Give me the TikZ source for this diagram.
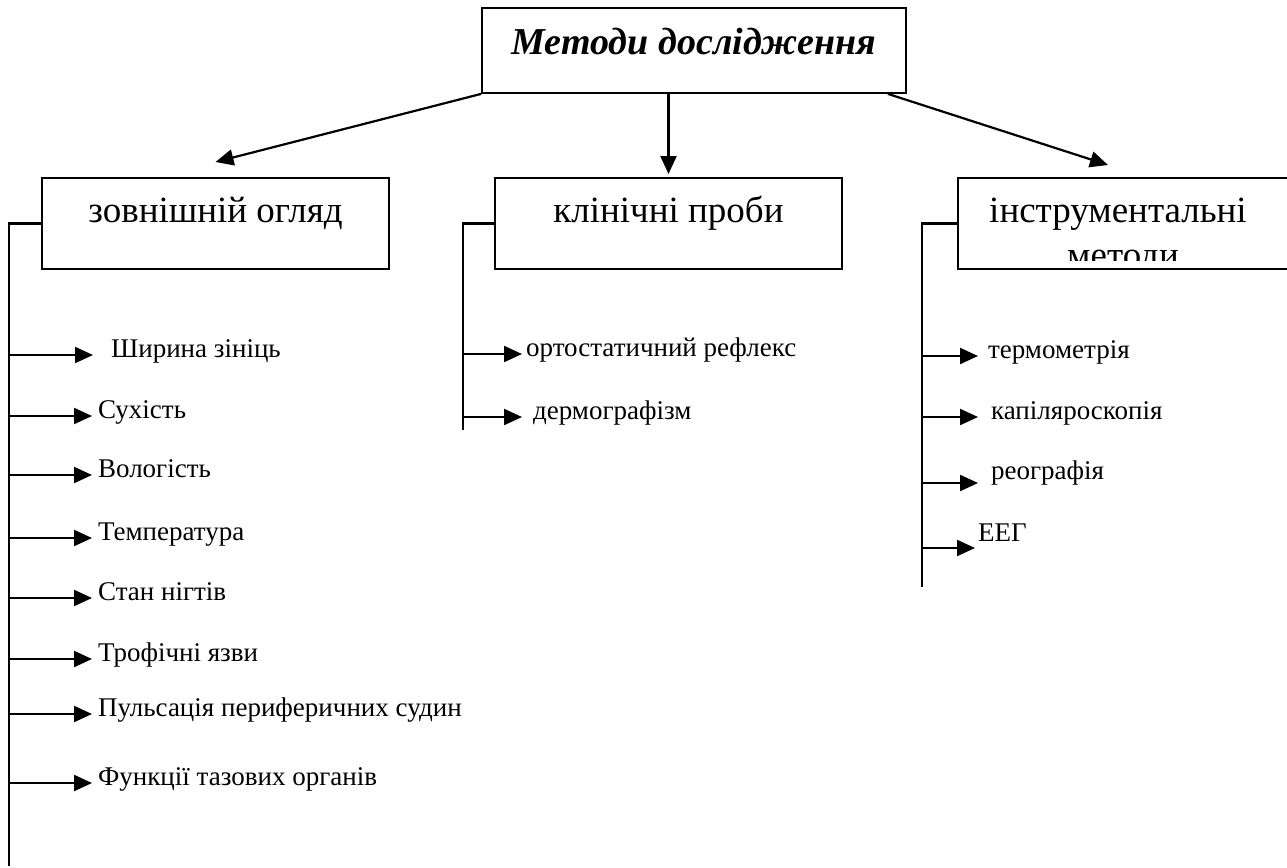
\documentclass[tikz,border=0pt]{standalone}
\usepackage{fontspec}
\setmainfont{Liberation Serif}
\usetikzlibrary{arrows.meta}

\begin{document}
\begin{tikzpicture}[x=1pt,y=-1pt,
  line width=2.2pt,
  catbox/.style={draw, line width=2pt, rectangle, inner xsep=0pt, inner ysep=0pt,
    minimum width=347pt, text height=44pt, text depth=47pt,
    font=\fontsize{37}{43}\selectfont},
  cattext/.style={anchor=base, inner sep=0pt, font=\fontsize{37}{43}\selectfont},
  arr/.style={-{Triangle[length=18pt,width=16pt]}, line width=2.2pt},
  item/.style={anchor=mid west, inner ysep=0pt, inner xsep=5pt,
    font=\fontsize{27}{31}\selectfont},
]
\useasboundingbox (0,0) rectangle (1287,867);

% title
\node[draw, line width=1.8pt, rectangle, minimum width=424pt, inner xsep=0pt, inner ysep=0pt,
  text height=47pt, text depth=38pt,
  font=\fontsize{38}{44}\selectfont\bfseries\itshape] (top) at (694,50.5) {Методи дослідження};

% three groups
\node[catbox] (zovn) at (215.5,223.5) {зовнішній огляд};
\node[catbox] (klin) at (668.5,223.5) {клінічні проби};
\node[catbox, minimum width=345pt, anchor=west] (instr) at (957,223.5) {};
\begin{scope}
  \clip (instr.north west) rectangle (1287,260);
  \node[cattext] (instrA) at (1118,222) {інструментальні};
  \node[cattext] (instrB) at (1123,267) {методи};
\end{scope}

% arrows from the title box
\coordinate (tz) at ([yshift=15pt]zovn.north);
\coordinate (tk) at ([yshift=3pt]klin.north);
\coordinate (ti) at (1108,165);
\draw[arr] (top.south west) -- (tz);
\draw[arr] (top.south -| klin.north) -- (tk);
\draw[arr] ([xshift=-19pt]top.south east) -- (ti);

% spines
\coordinate (lspine) at (9,866);
\coordinate (mspine) at (463,430);
\coordinate (rspine) at (922,587);
\draw (zovn.west) -| (lspine);
\draw (klin.west) -| (mspine);
\draw (instr.west) -| (rspine);

% external examination
\node[item, inner xsep=17pt] (a1) at (93,355) {Ширина зініць};
\node[item] (a2) at (92,416) {Сухість};
\node[item] (a3) at (92,475) {Вологість};
\node[item] (a4) at (92,538) {Температура};
\node[item] (a5) at (92,598) {Стан нігтів};
\node[item] (a6) at (92,659) {Трофічні язви};
\node[item] (a7) at (92,714) {Пульсація периферичних судин};
\node[item] (a8) at (92,783) {Функції тазових органів};
\foreach \n in {a1,a2,a3,a4,a5,a6,a7,a8}
  \draw[arr] (lspine |- \n.mid west) -- (\n.mid west);

% clinical tests
\node[item, inner xsep=3pt] (b1) at (522,354) {ортостатичний рефлекс};
\node[item, inner xsep=10pt] (b2) at (522,417) {дермографізм};
\foreach \n in {b1,b2}
  \draw[arr] (mspine |- \n.mid west) -- (\n.mid west);

% instrumental methods
\node[item, inner xsep=9pt] (c1) at (978,356) {термометрія};
\node[item, inner xsep=12pt] (c2) at (978,417) {капіляроскопія};
\node[item, inner xsep=12pt] (c3) at (978,477) {реографія};
\node[item, inner xsep=2pt] (c4) at (975,539) {ЕЕГ};
\draw[arr] (rspine |- c1.mid west) -- (c1.mid west);
\draw[arr] (rspine |- c2.mid west) -- (c2.mid west);
\draw[arr] ([yshift=-6pt]rspine |- c3.mid west) -- ([yshift=-6pt]c3.mid west);
\draw[arr] ([yshift=-9pt]rspine |- c4.mid west) -- ([yshift=-9pt]c4.mid west);
\end{tikzpicture}
\end{document}
